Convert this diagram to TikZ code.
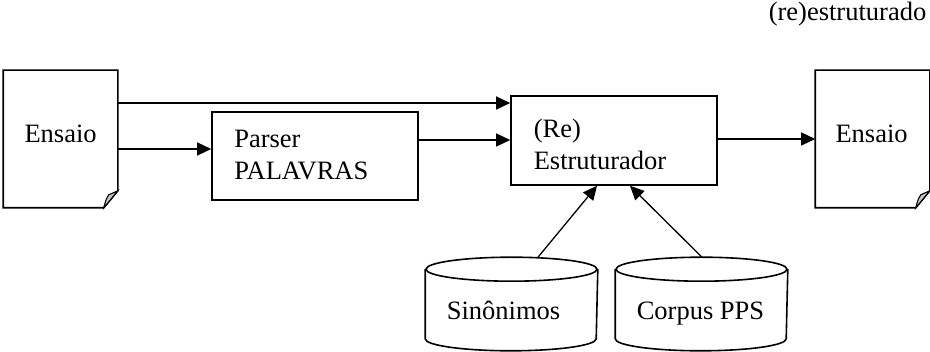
\documentclass[tikz,border=0pt]{standalone}
\usepackage{fontspec}
\setmainfont{Liberation Serif}
\usetikzlibrary{arrows.meta}
\begin{document}
\begin{tikzpicture}[x=1pt,y=-1pt,
  line width=1.6pt,
  lbl/.style={font=\fontsize{26.5}{32}\selectfont, inner sep=0pt, align=left},
  docbox/.style={minimum width=113pt, minimum height=136pt, inner sep=0pt},
  procbox/.style={draw, minimum width=206pt, inner sep=0pt},
  dbbox/.style={minimum width=171pt, minimum height=92pt, inner sep=0pt},
  arr/.style={line width=1.3pt, -{Triangle[length=14pt,width=13pt]}},
  fold/.style={fill=gray!45}
]
\useasboundingbox (0,0) rectangle (930,352);

% nodes
\node[docbox] (d1) at (60.5,139) {};
\node[docbox] (d2) at (872.5,139) {};
\node[procbox, minimum height=88pt] (parser) at (315,156) {};
\node[procbox, minimum height=89pt] (es) at (614,140.5) {};
\node[dbbox] (syn) at (511.5,304) {};
\node[dbbox] (cor) at (701.5,304) {};

% documents
\foreach \d in {d1,d2} {
  \draw (\d.north west) -- (\d.north east) -- ([yshift=17pt]\d.south east)
        -- ([xshift=-14pt]\d.south east) -- (\d.south west) -- cycle;
  \filldraw[fold, line width=1.1pt] ([yshift=17pt]\d.south east) -- ([xshift=-14pt]\d.south east)
        .. controls ([xshift=-12pt,yshift=8pt]\d.south east) .. ([xshift=-9pt,yshift=13pt]\d.south east) -- cycle;
}

% databases
\foreach \c in {syn,cor} {
  \draw ([yshift=-12pt]\c.north west) -- ([yshift=12pt]\c.south west)
        arc[start angle=180,end angle=360,x radius=85.5pt,y radius=12pt]
        -- ([yshift=-12pt]\c.north east);
  \draw ([yshift=-12pt]\c.north) ellipse [x radius=85.5pt, y radius=12pt];
}

% texts
\node[lbl, anchor=base west] (t1) at (23.7,143) {Ensaio};
\node[lbl, anchor=base west] (t2) at (834.7,143) {Ensaio};
\node[lbl, anchor=base west] (tp) at (233.5,180) {Parser\\PALAVRAS};
\node[lbl, anchor=base west] (te) at (533,170) {(Re)\\Estruturador};
\node[lbl, anchor=base west] (ts) at (446,320) {Sinônimos};
\node[lbl, anchor=base west] (tc) at (636,320) {Corpus PPS};
\node[lbl, anchor=base west] (tt) at (768,21) {(re)estruturado};

% connectors
\draw[arr] (d1.east |- 0,103) -- (es.west |- 0,103);
\draw[arr] (d1.east |- 0,149) -- (parser.west |- 0,149);
\draw[arr] (parser.east |- 0,140) -- (es.west |- 0,140);
\draw[arr] (es.east |- 0,139) -- (d2.west |- 0,139);
\draw[arr] ([xshift=26.5pt]syn.north) -- ([xshift=-17pt]es.south);
\draw[arr] ([xshift=0.5pt]cor.north) -- ([xshift=16pt]es.south);
\end{tikzpicture}
\end{document}
